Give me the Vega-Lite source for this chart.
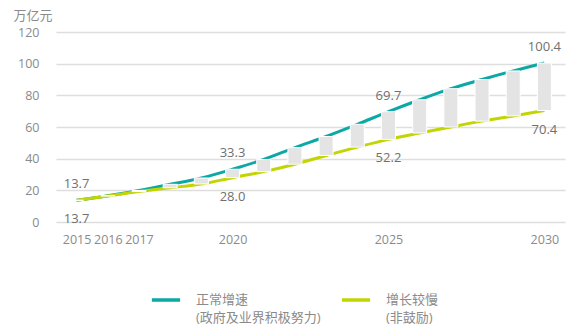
{
  "$schema": "https://vega.github.io/schema/vega-lite/v6.json",
  "autosize": "none",
  "width": 509,
  "height": 190,
  "padding": {"left": 56, "top": 32, "right": 12, "bottom": 109},
  "background": "white",
  "config": {
    "view": {"stroke": null},
    "font": "Open Sans, Noto Sans CJK SC",
    "axis": {"labelFont": "Open Sans, Noto Sans CJK SC", "titleFont": "Open Sans, Noto Sans CJK SC"},
    "axisY": {
      "values": [0, 20, 40, 60, 80, 100, 120],
      "grid": true, "gridColor": "#dedede", "gridWidth": 1.5,
      "domain": false, "ticks": false, "labelPadding": 17,
      "labelFontSize": 12.5, "labelColor": "#8a8a8a",
      "labelOverlap": false,
      "titleAngle": 0, "titleAlign": "left", "titleBaseline": "middle",
      "titleX": -43, "titleY": -17, "titleFontSize": 13, "titleFontWeight": "normal", "titleColor": "#8a8a8a"
    },
    "legend": {"labelFont": "Open Sans, Noto Sans CJK SC"}
  },
  "datasets": {
    "wide": [
      {"year": 2015, "正常增速": 13.7, "增长较慢": 13.7},
      {"year": 2016, "正常增速": 16.6, "增长较慢": 16.4},
      {"year": 2017, "正常增速": 19.9, "增长较慢": 19.2},
      {"year": 2018, "正常增速": 23.8, "增长较慢": 21.6},
      {"year": 2019, "正常增速": 27.8, "增长较慢": 24.0},
      {"year": 2020, "正常增速": 33.3, "增长较慢": 28.0},
      {"year": 2021, "正常增速": 39.5, "增长较慢": 31.8},
      {"year": 2022, "正常增速": 47.0, "增长较慢": 36.5},
      {"year": 2023, "正常增速": 54.0, "增长较慢": 42.0},
      {"year": 2024, "正常增速": 61.7, "增长较慢": 47.3},
      {"year": 2025, "正常增速": 69.7, "增长较慢": 52.2},
      {"year": 2026, "正常增速": 77.2, "增长较慢": 56.2},
      {"year": 2027, "正常增速": 84.2, "增长较慢": 60.0},
      {"year": 2028, "正常增速": 90.0, "增长较慢": 63.7},
      {"year": 2029, "正常增速": 95.4, "增长较慢": 67.0},
      {"year": 2030, "正常增速": 100.4, "增长较慢": 70.4}
    ],
    "labels": [
      {"year": 2015, "fast": 13.7, "slow": 13.7},
      {"year": 2020, "fast": 33.3, "slow": 28.0},
      {"year": 2025, "fast": 69.7, "slow": 52.2},
      {"year": 2030, "fast": 100.4, "slow": 70.4}
    ]
  },
  "encoding": {
    "x": {
      "field": "year", "type": "quantitative",
      "scale": {"domain": [2014.5, 2030.5], "nice": false, "zero": false},
      "axis": {
        "values": [2015, 2016, 2017, 2020, 2025, 2030],
        "format": "d", "grid": false, "domain": false, "ticks": false,
        "labelPadding": 11, "labelFontSize": 12.5, "labelColor": "#8a8a8a",
        "labelOverlap": false,
        "title": null
      }
    }
  },
  "layer": [
    {
      "data": {"name": "wide"},
      "transform": [{"fold": ["正常增速", "增长较慢"], "as": ["series", "value"]}],
      "mark": {"type": "line", "strokeWidth": 3, "interpolate": "monotone"},
      "encoding": {
        "y": {
          "field": "value", "type": "quantitative",
          "scale": {"domain": [0, 120], "nice": false},
          "axis": {"title": "万亿元", "values": [0, 20, 40, 60, 80, 100, 120]}
        },
        "color": {
          "field": "series", "type": "nominal",
          "scale": {"domain": ["正常增速", "增长较慢"], "range": ["#0ba8a6", "#c2d500"]},
          "legend": {
            "title": null, "orient": "none", "direction": "horizontal",
            "legendX": 94, "legendY": 252,
            "symbolType": "stroke", "symbolStrokeWidth": 3.5, "symbolSize": 800,
            "labelFontSize": 13, "labelColor": "#8a8a8a", "labelOffset": 14,
            "labelBaseline": "middle", "columnPadding": 13,
            "labelLimit": 300,
            "labelExpr": "datum.label == '正常增速' ? ['正常增速', '(政府及业界积极努力)'] : ['增长较慢', '(非鼓励)']",
            "encode": {"labels": {"update": {"lineHeight": {"value": 18}}}}
          }
        }
      }
    },
    {
      "data": {"name": "wide"},
      "mark": {"type": "bar", "width": 14, "color": "#e3e4e3", "stroke": "white", "strokeWidth": 1},
      "encoding": {
        "y": {"field": "增长较慢", "type": "quantitative", "scale": {"domain": [0, 120], "nice": false}, "axis": {"title": "万亿元", "values": [0, 20, 40, 60, 80, 100, 120]}},
        "y2": {"field": "正常增速"}
      }
    },
    {
      "data": {"name": "labels"},
      "mark": {"type": "text", "dy": -16, "fontSize": 13, "color": "#707070"},
      "encoding": {
        "y": {"field": "fast", "type": "quantitative", "scale": {"domain": [0, 120], "nice": false}, "axis": {"title": "万亿元", "values": [0, 20, 40, 60, 80, 100, 120]}},
        "text": {"field": "fast", "type": "quantitative", "format": ".1f"}
      }
    },
    {
      "data": {"name": "labels"},
      "mark": {"type": "text", "dy": 19, "fontSize": 13, "color": "#707070"},
      "encoding": {
        "y": {"field": "slow", "type": "quantitative", "scale": {"domain": [0, 120], "nice": false}, "axis": {"title": "万亿元", "values": [0, 20, 40, 60, 80, 100, 120]}},
        "text": {"field": "slow", "type": "quantitative", "format": ".1f"}
      }
    }
  ]
}
